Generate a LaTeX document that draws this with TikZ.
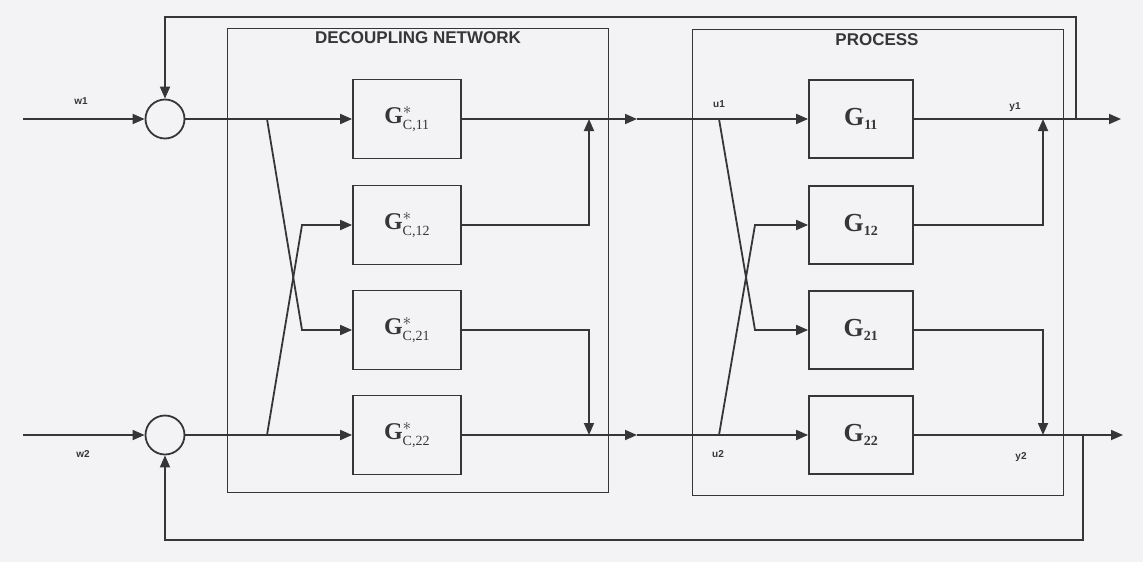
\documentclass[tikz,border=0pt]{standalone}
\usepackage{fontspec}
\setmainfont{Liberation Serif}
\setsansfont{Liberation Sans}
\usetikzlibrary{arrows.meta}
\definecolor{ink}{HTML}{363636}
\definecolor{paper}{HTML}{F3F3F5}

\tikzset{
  sig/.style = {draw = ink, line width = 1.8pt},
  tip/.style = {-{Triangle[length = 12pt, width = 10pt]}},
  frame/.style = {draw = ink, line width = 0.8pt},
  sumnode/.style = {circle, draw = ink, line width = 1.8pt, minimum size = 39pt, inner sep = 0pt},
  gcblock/.style = {rectangle, draw = ink, line width = 1.8pt, minimum width = 108pt, minimum height = 79pt,
    inner sep = 0pt, text = ink, font = \fontsize{24}{27}\selectfont},
  gblock/.style = {rectangle, draw = ink, line width = 1.8pt, minimum width = 104pt, minimum height = 78pt,
    inner sep = 0pt, text = ink, font = \fontsize{26}{29}\selectfont},
  sig label/.style = {text = ink, font = \sffamily\bfseries\fontsize{10}{12}\selectfont},
  head label/.style = {text = ink, font = \sffamily\bfseries\fontsize{17}{20}\selectfont}
}

\newcommand{\gcname}[1]{$\mbox{\textbf{G}}^{*}_{\mbox{\fontsize{14}{14}\selectfont #1}}$}
\newcommand{\gname}[1]{$\mbox{\textbf{G}}_{\mbox{\bfseries\fontsize{14}{14}\selectfont #1}}$}

\begin{document}
\begin{tikzpicture}[x = 1pt, y = -1pt]
            \fill[paper] (0, 0) rectangle (1143, 562);
            \useasboundingbox (0, 0) rectangle (1143, 562);

            % frames
            \draw[frame] (227, 28) rectangle (608, 492);
            \draw[frame] (692, 29) rectangle (1063, 495);
            \node (dn) at (418, 38) [head label]{DECOUPLING NETWORK};
            \node (pr) at (877, 40) [head label]{PROCESS};

            % summing points
            \node (s1) at (165, 119) [sumnode]{};
            \node (s2) at (165, 435) [sumnode]{};
            \coordinate (w1in) at (23, 119);
            \coordinate (w2in) at (23, 435);
            \node (w1) at (81, 101) [sig label]{w1};
            \node (w2) at (83, 454) [sig label]{w2};

            % decoupling network
            \node (c11) at (407, 119) [gcblock]{\gcname{C,11}};
            \node (c12) at (407, 225) [gcblock]{\gcname{C,12}};
            \node (c21) at (407, 330) [gcblock]{\gcname{C,21}};
            \node (c22) at (407, 435) [gcblock]{\gcname{C,22}};

            % process
            \node (g11) at (861, 119) [gblock]{\gname{11}};
            \node (g12) at (861, 225) [gblock]{\gname{12}};
            \node (g21) at (861, 330) [gblock]{\gname{21}};
            \node (g22) at (861, 435) [gblock]{\gname{22}};
            \node (u1) at (719, 104) [sig label]{u1};
            \node (u2) at (718, 454) [sig label]{u2};
            \node (y1) at (1015, 107) [sig label]{y1};
            \node (y2) at (1021, 457) [sig label]{y2};

            \coordinate (b1) at (267, 119);
            \coordinate (b2) at (267, 435);
            \coordinate (k1) at (302, 330);
            \coordinate (k2) at (302, 225);
            \coordinate (j1) at (589, 119);
            \coordinate (j2) at (589, 435);
            \coordinate (m1) at (637, 119);
            \coordinate (m2) at (637, 435);
            \coordinate (p1) at (719, 119);
            \coordinate (p2) at (719, 435);
            \coordinate (q1) at (755, 330);
            \coordinate (q2) at (755, 225);
            \coordinate (o1) at (1043, 119);
            \coordinate (o2) at (1043, 435);
            \coordinate (f1) at (1076, 119);
            \coordinate (f2) at (1083, 435);
            \coordinate (t1) at (1076, 17);
            \coordinate (t2) at (1083, 540);
            \coordinate (e1) at (1121, 119);
            \coordinate (e2) at (1123, 435);

            \draw[sig, tip] (w1in) -- (s1);
            \draw[sig, tip] (w2in) -- (s2);
            \draw[sig, tip] (s1) -- (c11);
            \draw[sig, tip] (s2) -- (c22);
            \draw[sig, tip] (b1) -- (k1) -- (c21);
            \draw[sig, tip] (b2) -- (k2) -- (c12);

            \draw[sig] (c11) -- (j1);
            \draw[sig] (c22) -- (j2);
            \draw[sig, tip] (c12.east) -| (j1);
            \draw[sig, tip] (c21.east) -| (j2);
            \draw[sig, tip] (j1) -- (m1);
            \draw[sig, tip] (j2) -- (m2);
            \draw[sig, tip] (m1) -- (g11);
            \draw[sig, tip] (m2) -- (g22);
            \draw[sig, tip] (p1) -- (q1) -- (g21);
            \draw[sig, tip] (p2) -- (q2) -- (g12);

            \draw[sig, tip] (g11) -- (e1);
            \draw[sig, tip] (g22) -- (e2);
            \draw[sig, tip] (g12.east) -| (o1);
            \draw[sig, tip] (g21.east) -| (o2);

            % feedback
            \draw[sig, tip] (f1) -- (t1) -| (s1);
            \draw[sig, tip] (f2) -- (t2) -| (s2);
\end{tikzpicture}
\end{document}
